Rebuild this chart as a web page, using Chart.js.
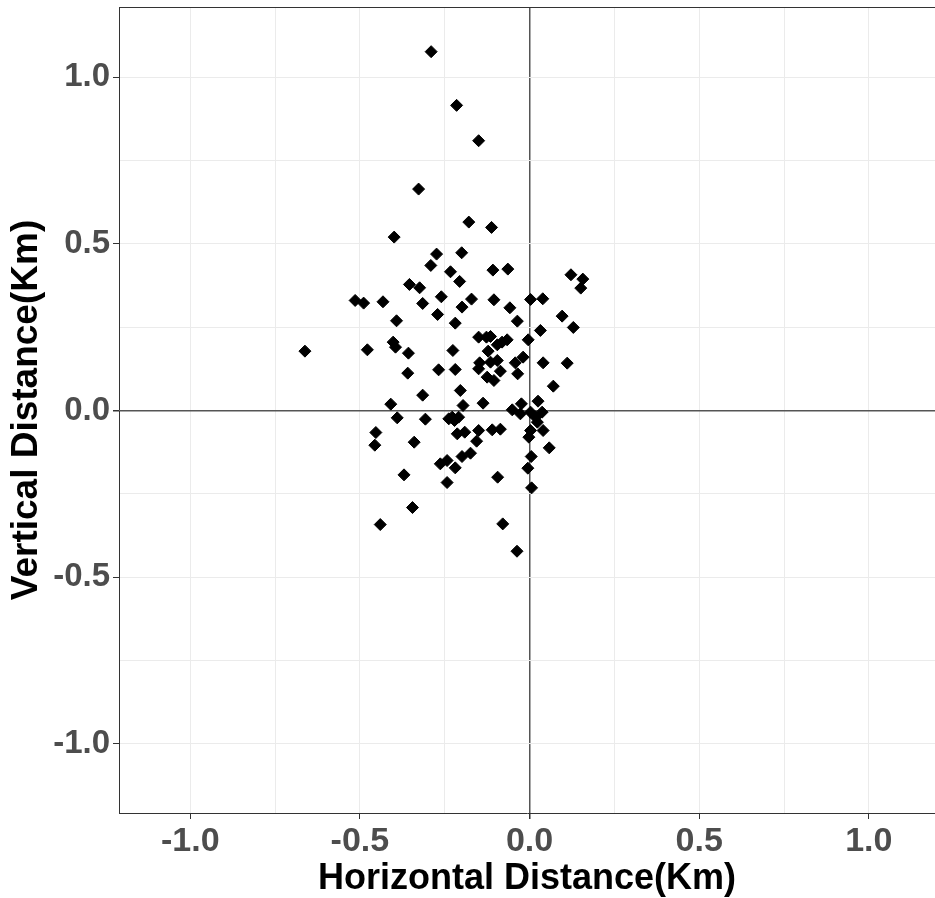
<!DOCTYPE html>
<html>
<head>
<meta charset="utf-8">
<script src="https://cdn.jsdelivr.net/npm/chart.js@4.4.1/dist/chart.umd.min.js"></script>
<style>
  html, body { margin: 0; padding: 0; background: #fff; }
  #wrap { width: 935px; height: 898px; }
</style>
</head>
<body>
<div id="wrap"><canvas id="scatter_chart" width="935" height="898"></canvas></div>
<script>
// horizontal / vertical distance of each point (Km)
const horiz_dist = [
  -0.290, -0.215, -0.150, -0.327, -0.399, -0.274, -0.200, -0.291, -0.233, -0.206,
  -0.354, -0.324, -0.514, -0.489, -0.432, -0.260, -0.315, -0.199, -0.271, -0.392,
  -0.219, -0.662, -0.478, -0.402, -0.395, -0.357, -0.226, -0.359, -0.268, -0.219,
  -0.179, -0.112, -0.108, -0.064,  0.122,  0.157,  0.151, -0.171, -0.105,  0.003,
   0.039, -0.058,  0.096,  0.129, -0.036,  0.032, -0.150, -0.127, -0.115, -0.095,
  -0.081, -0.066, -0.004, -0.122, -0.147, -0.115, -0.095, -0.042, -0.019,  0.040,
   0.111, -0.150, -0.086, -0.035, -0.125, -0.105, -0.315, -0.409, -0.390, -0.307,
  -0.238, -0.228, -0.221, -0.209, -0.453, -0.456, -0.340, -0.213, -0.191, -0.263,
  -0.243, -0.219, -0.370, -0.243, -0.345, -0.440,  0.070, -0.204, -0.137, -0.196,
  -0.024,  0.025, -0.051, -0.027,  0.003,  0.018,  0.037,  0.023, -0.150, -0.110,
  -0.086, -0.156,  0.003, -0.002,  0.040,  0.058, -0.199, -0.174,  0.005, -0.005,
  -0.094,  0.006, -0.079, -0.037
];
const vert_dist = [
   1.076,  0.915,  0.809,  0.664,  0.520,  0.469,  0.473,  0.435,  0.416,  0.387,
   0.378,  0.368,  0.330,  0.322,  0.326,  0.341,  0.321,  0.310,  0.288,  0.269,
   0.262,  0.178,  0.182,  0.205,  0.190,  0.172,  0.180,  0.112,  0.122,  0.123,
   0.565,  0.549,  0.421,  0.424,  0.407,  0.394,  0.367,  0.334,  0.332,  0.333,
   0.335,  0.308,  0.283,  0.249,  0.268,  0.240,  0.220,  0.220,  0.222,  0.197,
   0.205,  0.212,  0.212,  0.178,  0.143,  0.145,  0.150,  0.143,  0.160,  0.143,
   0.142,  0.125,  0.118,  0.110,  0.100,  0.090,  0.046,  0.019, -0.022, -0.026,
  -0.025, -0.020, -0.030, -0.020, -0.066, -0.104, -0.095, -0.070, -0.065, -0.160,
  -0.150, -0.172, -0.193, -0.216, -0.291, -0.342,  0.073,  0.060,  0.022,  0.015,
   0.020,  0.028,  0.002, -0.010, -0.005, -0.020, -0.005, -0.035, -0.060, -0.058,
  -0.056, -0.092, -0.060, -0.080, -0.060, -0.112, -0.138, -0.128, -0.138, -0.173,
  -0.200, -0.232, -0.340, -0.422
];

const grid_values = [-1.0, -0.75, -0.5, -0.25, 0.0, 0.25, 0.5, 0.75, 1.0];
const tick_labels = ["-1.0", "-0.5", "0.0", "0.5", "1.0"];

const points = horiz_dist.map((x, i) => ({ x: x, y: vert_dist[i] }));

function isMajor(v) {
  return Math.abs(v * 2 - Math.round(v * 2)) < 1e-6;
}
function labelFor(v) {
  if (!isMajor(v)) return "";
  return tick_labels[Math.round(v * 2) + 2];
}
function setTicks(scale) {
  scale.ticks = grid_values.map(v => ({ value: v }));
}
function gridColor(ctx) {
  if (!ctx.tick) return "#ebebeb";
  if (Math.abs(ctx.tick.value) < 1e-9) return "#555555";
  return "#ebebeb";
}
function gridWidth(ctx) {
  if (ctx.tick && Math.abs(ctx.tick.value) < 1e-9) return 1.5;
  return 1;
}
function tickMarkColor(ctx) {
  if (ctx.tick && isMajor(ctx.tick.value)) return "#333333";
  return "rgba(0,0,0,0)";
}

// top edge of the panel frame
const panelTop = {
  id: "panelTop",
  afterDraw(chart) {
    const a = chart.chartArea, c = chart.ctx;
    c.save();
    c.strokeStyle = "#333333";
    c.lineWidth = 1;
    c.beginPath();
    c.moveTo(a.left, a.top + 0.5);
    c.lineTo(a.right, a.top + 0.5);
    c.stroke();
    c.restore();
  }
};

const ctx = document.getElementById("scatter_chart").getContext("2d");

new Chart(ctx, {
  type: "scatter",
  data: {
    datasets: [{
      label: "points",
      data: points,
      pointStyle: "rectRot",
      pointRadius: 6,
      pointHoverRadius: 6,
      backgroundColor: "#000000",
      borderColor: "#000000",
      borderWidth: 1
    }]
  },
  options: {
    responsive: false,
    animation: false,
    events: [],
    layout: { autoPadding: false, padding: { top: 7, left: 0, right: 0, bottom: 0 } },
    plugins: {
      legend: { display: false },
      tooltip: { enabled: false }
    },
    scales: {
      x: {
        type: "linear",
        min: -1.21,
        max: 1.195,
        afterBuildTicks: setTicks,
        afterFit: s => { s.height = 85; s.paddingLeft = 0; s.paddingRight = 0; },
        grid: {
          color: gridColor,
          lineWidth: gridWidth,
          tickColor: tickMarkColor,
          tickLength: 6
        },
        border: { display: true, color: "#333333", width: 1 },
        ticks: {
          callback: labelFor,
          color: "#4d4d4d",
          padding: 2,
          maxRotation: 0,
          autoSkip: false,
          font: { family: "'Liberation Sans', Arial, sans-serif", size: 34, weight: "bold" }
        },
        title: {
          display: true,
          text: "Horizontal Distance(Km)",
          color: "#000000",
          padding: { top: 0, bottom: 1 },
          font: { family: "'Liberation Sans', Arial, sans-serif", size: 36, weight: "bold", lineHeight: 1 }
        }
      },
      y: {
        type: "linear",
        min: -1.207,
        max: 1.21,
        afterBuildTicks: setTicks,
        afterFit: s => { s.width = 119; s.paddingTop = 0; s.paddingBottom = 0; },
        grid: {
          color: gridColor,
          lineWidth: gridWidth,
          tickColor: tickMarkColor,
          tickLength: 6
        },
        border: { display: true, color: "#333333", width: 1 },
        ticks: {
          callback: labelFor,
          color: "#4d4d4d",
          padding: 3,
          autoSkip: false,
          font: { family: "'Liberation Sans', Arial, sans-serif", size: 33, weight: "bold" }
        },
        title: {
          display: true,
          text: "Vertical Distance(Km)",
          color: "#000000",
          padding: { top: 8, bottom: 0 },
          font: { family: "'Liberation Sans', Arial, sans-serif", size: 37, weight: "bold", lineHeight: 1 }
        }
      }
    }
  },
  plugins: [panelTop]
});
</script>
</body>
</html>
